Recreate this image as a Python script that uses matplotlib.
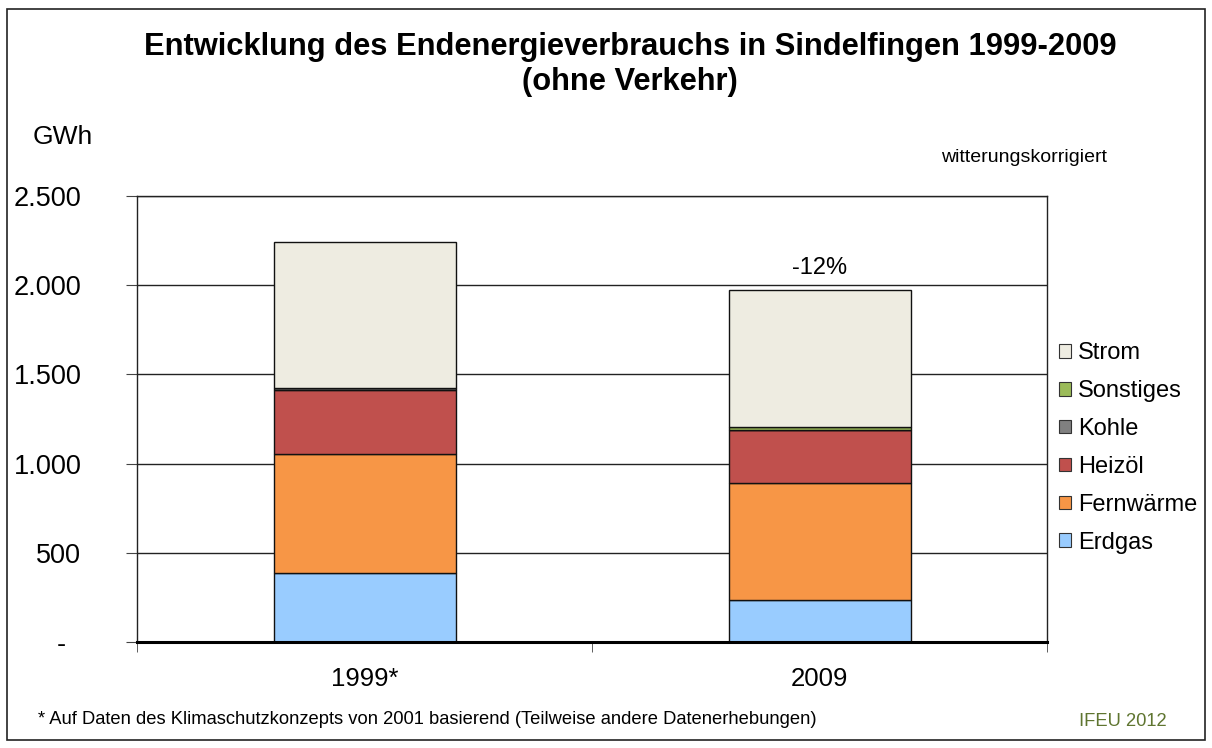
import matplotlib.pyplot as plt
from matplotlib.patches import Patch, Rectangle
from matplotlib.ticker import FuncFormatter

plt.rcParams["font.family"] = ["Liberation Sans", "DejaVu Sans"]

years = ["1999*", "2009"]
sources = ["Erdgas", "Fernwärme", "Heizöl", "Kohle", "Sonstiges", "Strom"]
erdgas = [385, 235]
fernwaerme = [668, 654]
heizoel = [362, 298]
kohle = [8, 3]
sonstiges = [2, 15]
strom = [815, 770]
colors = ["#99CCFF", "#F79646", "#C0504D", "#808080", "#9BBB59", "#EEECE1"]
change_label = "-12%"

W, H = 1212, 748
fig = plt.figure(figsize=(W / 100, H / 100), dpi=100)
ax = fig.add_axes([137 / W, (H - 642) / H, 910 / W, 446 / H])

series = [erdgas, fernwaerme, heizoel, kohle, sonstiges, strom]
x = list(range(len(years)))
bottom = [0.0] * len(years)
for name, vals, col in zip(sources, series, colors):
    ax.bar(x, vals, width=0.4, bottom=bottom, color=col, edgecolor="#111111", linewidth=1.0, zorder=3)
    bottom = [b + v for b, v in zip(bottom, vals)]

ax.text(1, bottom[1] + 120, change_label, ha="center", va="center", fontsize=17)

ax.set_xlim(-0.5, 1.5)
ax.set_ylim(0, 2500)
ax.set_yticks(range(0, 2501, 500))
ax.yaxis.set_major_formatter(FuncFormatter(lambda v, p: "-  " if v == 0 else f"{int(v):,}".replace(",", ".")))
ax.grid(axis="y", color="#222222", linewidth=1.0, zorder=0)
ax.set_xticks(x)
ax.set_xticklabels(years, fontsize=18.5)
ax.set_xticks([-0.5, 0.5, 1.5], minor=True)
ax.tick_params(axis="x", which="major", length=0, pad=18)
ax.tick_params(axis="x", which="minor", length=7, color="#444444", direction="out")
ax.tick_params(axis="y", labelsize=19.5, length=8, color="#444444", pad=32)
for lab in ax.get_yticklabels():
    lab.set_horizontalalignment("right")
for s in ["top", "right", "left"]:
    ax.spines[s].set_color("#222222")
    ax.spines[s].set_linewidth(1.0)
ax.spines["bottom"].set_linewidth(2.2)
ax.spines["bottom"].set_zorder(4)

handles = [Patch(facecolor=c, edgecolor="#333333", linewidth=0.8, label=n)
           for n, c in zip(sources, colors)][::-1]
fig.legend(handles=handles, loc="upper left", bbox_to_anchor=(1050 / W, 1 - 333 / H),
           frameon=False, fontsize=17, handlelength=0.5, handleheight=0.5,
           handletextpad=0.3, labelspacing=0.67, borderaxespad=0)

fig.text(630 / W, 1 - 47 / H, "Entwicklung des Endenergieverbrauchs in Sindelfingen 1999-2009",
         ha="center", va="center", fontsize=22.2, fontweight="bold")
fig.text(630 / W, 1 - 82 / H, "(ohne Verkehr)", ha="center", va="center", fontsize=22.2, fontweight="bold")
fig.text(33 / W, 1 - 137 / H, "GWh", ha="left", va="center", fontsize=19)
fig.text(1107 / W, 1 - 157 / H, "witterungskorrigiert", ha="right", va="center", fontsize=14)
fig.text(38 / W, 1 - 719 / H,
         "* Auf Daten des Klimaschutzkonzepts von 2001 basierend (Teilweise andere Datenerhebungen)",
         ha="left", va="center", fontsize=13.2)
fig.text(1167 / W, 1 - 721 / H, "IFEU 2012", ha="right", va="center", fontsize=13.2, color="#5F7530")

fig.patches.append(Rectangle((7 / W, 8 / H), 1198 / W, 731 / H, transform=fig.transFigure,
                             fill=False, edgecolor="#222222", linewidth=1.2))

fig.savefig("out.png", dpi=100)
